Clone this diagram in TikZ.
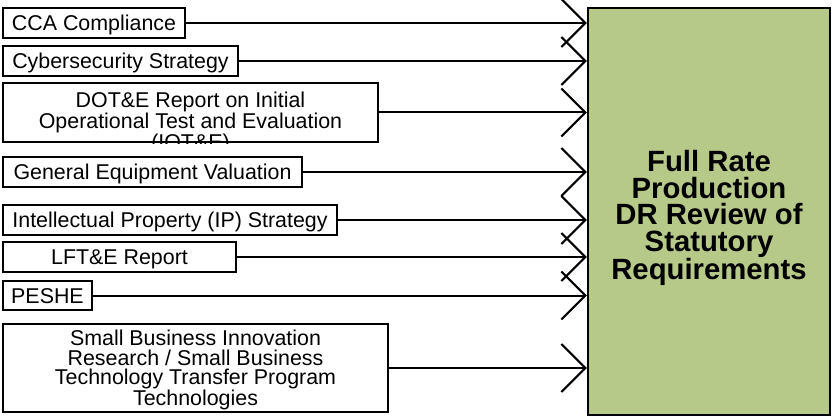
\documentclass[tikz,border=0pt]{standalone}
\usepackage{fontspec}
\setmainfont{Liberation Sans}
\usetikzlibrary{arrows.meta}
\definecolor{boxgreen}{RGB}{183,201,137}
\begin{document}
\begin{tikzpicture}[x=1pt,y=-1pt,
  inbox/.style={draw=black, line width=2pt, inner sep=0pt, align=center,
    font=\fontsize{21.4}{19.5}\selectfont, fill=white},
  oneline/.style={text height=15.3pt, text depth=0pt},
  intext/.style={inner sep=0pt, align=center, font=\fontsize{21.4}{19.5}\selectfont},
  conn/.style={line width=2pt, -{Straight Barb[length=24pt,width=48pt]}}]
\useasboundingbox (0,0) rectangle (832,417);

\node[draw=black, line width=2.5pt, fill=boxgreen, minimum width=242pt, minimum height=407pt, inner sep=0pt] (g) at (709,211.5) {};
\node[inner sep=0pt, align=center, font=\bfseries\fontsize{29.3}{26.5}\selectfont] (title) at (709,218)
  {Full Rate\\Production\\DR Review of\\Statutory\\Requirements};

\node[inbox, oneline, minimum width=182pt, minimum height=30pt] (cca) at (94,23) {CCA Compliance};
\node[inbox, oneline, minimum width=235pt, minimum height=30pt] (cyb) at (120.5,61) {Cybersecurity Strategy};
\node[inbox, minimum width=375pt, minimum height=59pt] (dot) at (190.5,112.5) {};
\begin{scope}
  \clip (dot.south west) rectangle (dot.north east);
  \node[intext, anchor=north] (dottxt) at (190.5,92)
    {DOT\&E Report on Initial\\Operational Test and Evaluation\\(IOT\&E)};
\end{scope}
\node[inbox, oneline, minimum width=299pt, minimum height=30pt] (gev) at (152.5,172) {General Equipment Valuation};
\node[inbox, oneline, minimum width=334pt, minimum height=30pt] (ip) at (170,220) {Intellectual Property (IP) Strategy};
\node[inbox, oneline, minimum width=233pt, minimum height=30pt] (lft) at (119.5,257) {LFT\&E Report};
\node[inbox, oneline, minimum width=89pt, minimum height=29pt] (peshe) at (47.5,295.5) {PESHE};
\node[inbox, text depth=0pt, minimum width=385pt, minimum height=88pt] (sbir) at (195.5,368)
  {Small Business Innovation\\Research / Small Business\\Technology Transfer Program\\Technologies};

\foreach \n in {cca,cyb,dot,gev,ip,lft,peshe,sbir}
  \draw[conn] (\n.east) -- (\n.east -| g.west);
\end{tikzpicture}
\end{document}
